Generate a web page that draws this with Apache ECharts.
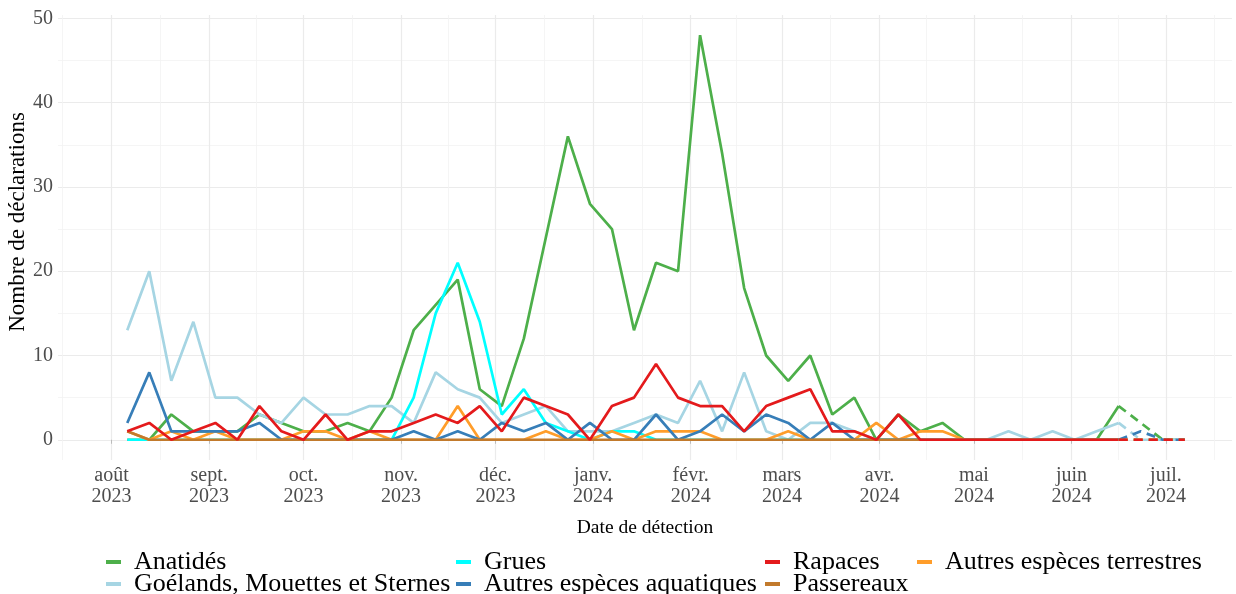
<!DOCTYPE html>
<html><head><meta charset="utf-8">
<script src="https://cdn.jsdelivr.net/npm/echarts@6/dist/echarts.min.js"></script>
<style>html,body{margin:0;padding:0;background:#fff;}#c{width:1236px;height:594px;}</style>
</head><body><div id="c"></div>
<script>
// ---- data ----
const weeks = ['2023-08-06','2023-08-13','2023-08-20','2023-08-27','2023-09-03','2023-09-10','2023-09-17','2023-09-24',
'2023-10-01','2023-10-08','2023-10-15','2023-10-22','2023-10-29','2023-11-05','2023-11-12','2023-11-19','2023-11-26',
'2023-12-03','2023-12-10','2023-12-17','2023-12-24','2023-12-31','2024-01-07','2024-01-14','2024-01-21','2024-01-28',
'2024-02-04','2024-02-11','2024-02-18','2024-02-25','2024-03-03','2024-03-10','2024-03-17','2024-03-24','2024-03-31',
'2024-04-07','2024-04-14','2024-04-21','2024-04-28','2024-05-05','2024-05-12','2024-05-19','2024-05-26','2024-06-02',
'2024-06-09','2024-06-16','2024-06-23','2024-06-30','2024-07-07'];
const anatides = [0,0,3,1,1,1,3,2,1,1,2,1,5,13,16,19,6,4,12,24,36,28,25,13,21,20,48,34,18,10,7,10,3,5,0,3,1,2,0,0,0,0,0,0,0,4,2,0,0];
const goelands = [13,20,7,14,5,5,3,2,5,3,3,4,4,2,8,6,5,2,3,4,1,1,1,2,3,2,7,1,8,1,0,2,2,1,0,0,0,0,0,0,1,0,1,0,1,2,0,0,0];
const grues    = [0,0,0,0,0,0,0,0,0,0,0,0,0,5,15,21,14,3,6,2,1,0,1,1,0,0,0,0,0,0,0,0,0,0,0,0,0,0,0,0,0,0,0,0,0,0,0,0,0];
const aquatiques = [2,8,1,1,1,1,2,0,0,0,0,0,0,1,0,1,0,2,1,2,0,2,0,0,3,0,1,3,1,3,2,0,2,0,0,0,0,0,0,0,0,0,0,0,0,0,1,0,0];
const terrestres = [1,0,1,0,1,0,0,0,1,1,0,1,0,0,0,4,0,0,0,1,0,0,1,0,1,1,1,0,0,0,1,0,0,0,2,0,1,1,0,0,0,0,0,0,0,0,0,0,0];
const passereaux = [1,0,0,0,0,0,0,0,0,0,0,0,0,0,0,0,0,0,0,0,0,0,0,0,0,0,0,0,0,0,0,0,0,0,0,0,0,0,0,0,0,0,0,0,0,0,0,0,0];
const rapaces  = [1,2,0,1,2,0,4,1,0,3,0,1,1,2,3,2,4,1,5,4,3,0,4,5,9,5,4,4,1,4,5,6,1,1,0,3,0,0,0,0,0,0,0,0,0,0,0,0,0];
const lastSolidIndex = 45; // weeks after this one are drawn dashed

const monthTicks = ['2023-08-01','2023-09-01','2023-10-01','2023-11-01','2023-12-01','2024-01-01','2024-02-01','2024-03-01','2024-04-01','2024-05-01','2024-06-01','2024-07-01'];
const monthLabels = ['août\n2023','sept.\n2023','oct.\n2023','nov.\n2023','déc.\n2023','janv.\n2024','févr.\n2024','mars\n2024','avr.\n2024','mai\n2024','juin\n2024','juil.\n2024'];
const minorMonthTicks = ['2023-07-16T12','2023-08-16T12','2023-09-16T00','2023-10-16T12','2023-11-16T00','2023-12-16T12','2024-01-16T12','2024-02-15T12','2024-03-16T12','2024-04-16T00','2024-05-16T12','2024-06-16T00','2024-07-16T12'];
const yTicks = [0,10,20,30,40,50];
const yMinorTicks = [5,15,25,35,45];
const yTitle = 'Nombre de déclarations';

// ---- helpers ----
function ts(s){ const p=s.split('T'); const [y,m,d]=p[0].split('-').map(Number); return Date.UTC(y,m-1,d,p[1]?Number(p[1]):0); }
const weekTs = weeks.map(ts);
const monthTs = monthTicks.map(ts);
const colors = {
  'Anatidés':'#4daf4a','Goélands, Mouettes et Sternes':'#a6d5e3','Grues':'#00ffff',
  'Autres espèces aquatiques':'#377eb8','Rapaces':'#e41a1c','Passereaux':'#c27a2c','Autres espèces terrestres':'#ff9d2a'
};
const values = {
  'Anatidés':anatides,'Goélands, Mouettes et Sternes':goelands,'Grues':grues,
  'Autres espèces aquatiques':aquatiques,'Rapaces':rapaces,'Passereaux':passereaux,'Autres espèces terrestres':terrestres
};
const drawOrder = ['Anatidés','Goélands, Mouettes et Sternes','Grues','Autres espèces terrestres','Autres espèces aquatiques','Passereaux','Rapaces'];

const series = [];
drawOrder.forEach(n=>{
  series.push({name:n,type:'line',symbol:'none',showSymbol:false,animation:false,
    data: values[n].slice(0,lastSolidIndex+1).map((v,i)=>[weekTs[i],v]),
    lineStyle:{width:2.7,color:colors[n]},itemStyle:{color:colors[n]}});
});
drawOrder.forEach(n=>{
  series.push({name:n+' ',type:'line',symbol:'none',showSymbol:false,animation:false,
    data: values[n].slice(lastSolidIndex).map((v,i)=>[weekTs[i+lastSolidIndex],v]),
    lineStyle:{width:2.7,color:colors[n],type:[9,6]},itemStyle:{color:colors[n]}});
});

const font = 'Liberation Serif';
const legendPos = [
  ['Anatidés',106,549],['Grues',456,549],['Rapaces',765,549],['Autres espèces terrestres',917,549],
  ['Goélands, Mouettes et Sternes',106,571],['Autres espèces aquatiques',456,571],['Passereaux',765,571]
];
const legends = legendPos.map(([n,l,t])=>({
  data:[n],left:l,top:t,padding:0,itemWidth:15,itemHeight:4,icon:'rect',selectedMode:false,
  textStyle:{fontFamily:font,fontSize:26,color:'#000',padding:[0,0,0,8]}
}));

const xMin = ts('2023-07-15'), xMax = ts('2024-07-22');
const chart = echarts.init(document.getElementById('c'),null,{renderer:'canvas'});
chart.setOption({
  animation:false,
  backgroundColor:'#fff',
  grid:{left:58,right:4,top:15,bottom:134,containLabel:false,outerBoundsMode:'none'},
  legend:legends,
  graphic:[{
    type:'text',x:18,y:222,rotation:Math.PI/2,silent:true,
    style:{text:yTitle,fontFamily:font,fontSize:23,fill:'#000',align:'center',verticalAlign:'middle'}
  }],
  xAxis:[{
    type:'value',min:xMin,max:xMax,position:'bottom',
    name:'Date de détection',nameLocation:'middle',nameGap:58,
    nameTextStyle:{fontFamily:font,fontSize:19.5,color:'#000'},
    axisLine:{show:false},
    axisTick:{show:true,length:4,inside:false,lineStyle:{color:'#bbbbbb'},customValues:monthTs},
    axisLabel:{customValues:monthTs,fontFamily:font,fontSize:20,color:'#4d4d4d',lineHeight:21,margin:5,
      formatter:(v)=>{let k=0,b=Infinity;monthTs.forEach((m,i)=>{const d=Math.abs(m-v);if(d<b){b=d;k=i;}});return monthLabels[k];}},
    splitLine:{show:true,lineStyle:{color:'#ebebeb',width:1.2}}
  },{
    type:'value',min:xMin,max:xMax,position:'top',
    axisLine:{show:false},axisLabel:{show:false},
    axisTick:{show:false,customValues:minorMonthTicks.map(ts)},
    splitLine:{show:true,lineStyle:{color:'#f3f3f3',width:0.8}}
  }],
  yAxis:[{
    type:'value',min:-2.4,max:50.4,position:'left',
    axisLine:{show:false},
    axisTick:{show:false,customValues:yTicks},
    axisLabel:{customValues:yTicks,fontFamily:font,fontSize:20,color:'#4d4d4d',margin:5,formatter:(v)=>String(Math.round(v))},
    splitLine:{show:true,lineStyle:{color:'#ebebeb',width:1.2}}
  },{
    type:'value',min:-2.4,max:50.4,position:'right',
    axisLine:{show:false},axisLabel:{show:false},
    axisTick:{show:false,customValues:yMinorTicks},
    splitLine:{show:true,lineStyle:{color:'#f3f3f3',width:0.8}}
  }],
  series:series
});
</script></body></html>
